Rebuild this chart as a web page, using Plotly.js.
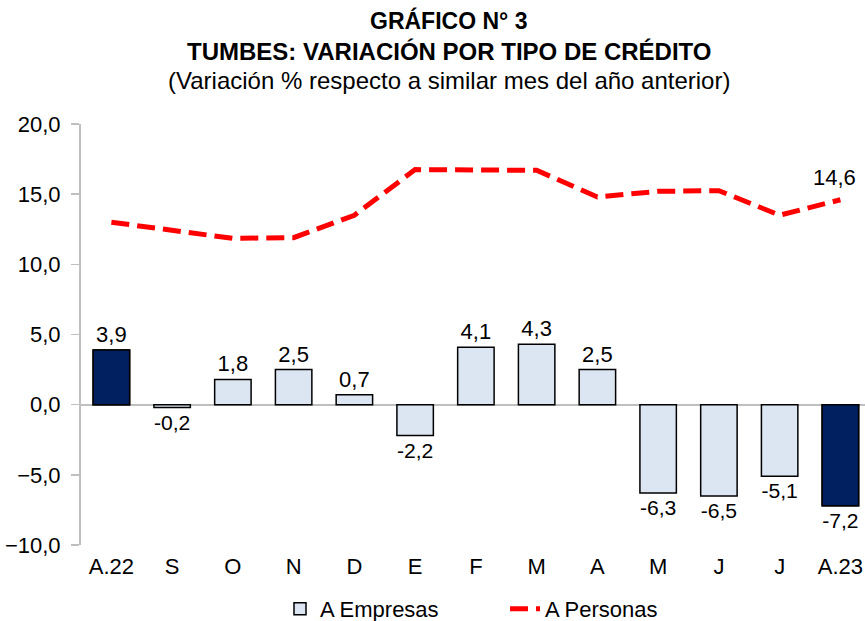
<!DOCTYPE html>
<html>
<head>
<meta charset="utf-8">
<script src="https://cdn.plot.ly/plotly-3.0.1.min.js"></script>
<style>html,body{margin:0;padding:0;background:#fff;overflow:hidden}#chart{width:865px;height:621px}</style>
</head>
<body>
<div id="chart"></div>
<script>
const categories = ["A.22","S","O","N","D","E","F","M","A","M","J","J","A.23"];
const empresas = [3.9,-0.2,1.8,2.5,0.7,-2.2,4.1,4.3,2.5,-6.3,-6.5,-5.1,-7.2];
const personas = [13.0,12.4,11.85,11.9,13.5,16.75,16.75,16.7,14.8,15.2,15.25,13.5,14.6];
const highlighted = ["A.22","A.23"];
const yTicks = [-10,-5,0,5,10,15,20];

const idx = categories.map((c,i)=>i);
const last = categories.length - 1;
const empresasHi = empresas.map((v,i)=> highlighted.includes(categories[i]) ? v : null);
const fmt = v => v.toFixed(1).replace(".", ",");

const FONT = "Liberation Sans, Arial, sans-serif";
const FS = 22;
// plot area: top 124px, bottom 545px (height 421)
const py = px => (545 - px) / 421;

const traces = [
  {
    type:"bar", x: idx, y: empresas, name:"A Empresas",
    marker:{color:"#DCE6F2", line:{color:"#000", width:1.5}},
    text: empresas.map(fmt), textposition:"outside", cliponaxis:false,
    textfont:{family:FONT, size:FS, color:"#000"},
    hoverinfo:"skip"
  },
  {
    type:"bar", x: idx, y: empresasHi, name:"A Empresas (destacado)", showlegend:false,
    marker:{color:"#002060", line:{color:"#000", width:1.5}},
    hoverinfo:"skip"
  },
  {
    type:"scatter", mode:"lines", x: idx, y: personas, name:"A Personas",
    line:{color:"#FF0000", width:5, dash:"18px,8px"},
    cliponaxis:false,
    hoverinfo:"skip"
  }
];

const layout = {
  width:865, height:621,
  margin:{l:81, r:0, t:124, b:76, autoexpand:false},
  paper_bgcolor:"#fff", plot_bgcolor:"#fff",
  separators:",.",
  font:{family:FONT, size:FS, color:"#000"},
  showlegend:true,
  barmode:"overlay",
  bargap:0.4,
  xaxis:{
    range:[-0.5, 12.405], tickvals: idx, ticktext: categories,
    showgrid:false, zeroline:false, showline:false,
    ticks:"outside", ticklen:2, tickcolor:"rgba(0,0,0,0)",
    tickfont:{family:FONT, size:FS, color:"#000"}, fixedrange:true
  },
  yaxis:{
    range:[-10,20], tickvals:yTicks, tickformat:".1f",
    showgrid:false, zeroline:true, zerolinecolor:"#BFBFBF", zerolinewidth:2,
    showline:true, linecolor:"#BFBFBF", linewidth:2,
    ticks:"outside", ticklen:8, tickcolor:"#BFBFBF", tickwidth:1.5,
    ticklabelstandoff:6,
    tickfont:{family:FONT, size:FS, color:"#000"}, fixedrange:true
  },
  legend:{
    orientation:"h", x:(280-81)/784, xanchor:"left", y:py(609), yanchor:"middle",
    font:{family:FONT, size:FS, color:"#000"}, traceorder:"normal",
    entrywidth:180, entrywidthmode:"pixels"
  },
  annotations:[
    {text:"<b>GRÁFICO N° 3</b>", xref:"paper", yref:"paper", x:0.469, y:py(20), yanchor:"middle", showarrow:false, font:{family:FONT,size:23,color:"#000"}},
    {text:"<b>TUMBES: VARIACIÓN POR TIPO DE CRÉDITO</b>", xref:"paper", yref:"paper", x:0.469, y:py(51), yanchor:"middle", showarrow:false, font:{family:FONT,size:24,color:"#000"}},
    {text:"(Variación % respecto a similar mes del año anterior)", xref:"paper", yref:"paper", x:0.469, y:py(80), yanchor:"middle", showarrow:false, font:{family:FONT,size:24,color:"#000"}},
    {text: fmt(personas[last]), xref:"x", yref:"y", x: idx[last], y: personas[last], yanchor:"bottom", yshift:8, xshift:-6, showarrow:false, font:{family:FONT,size:FS,color:"#000"}}
  ]
};

Plotly.newPlot("chart", traces, layout, {displayModeBar:false, staticPlot:true});
</script>
</body>
</html>
